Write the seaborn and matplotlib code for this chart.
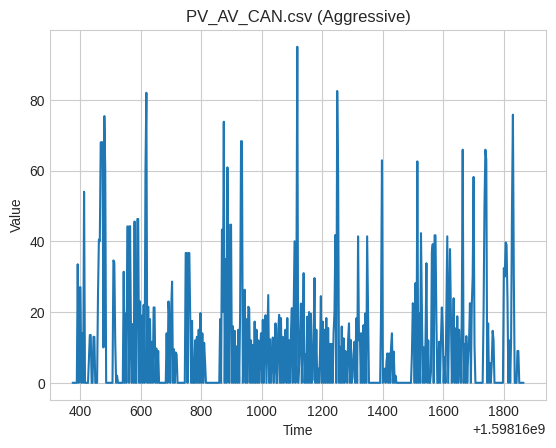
import numpy as np
import pandas as pd
import matplotlib
matplotlib.use("Agg")
import matplotlib.pyplot as plt
import seaborn as sns

# --- datos (tiempo epoch, muestreo cada 3 s dentro de cada rafaga) ---
base_time = 1598160000
step = 3

edge_times = [374, 1865]
edge_values = [0, 0]

burst_starts = [376, 425, 455, 506, 540, 682, 745, 776, 856, 1391, 1493, 1730, 1797]

burst_a = [0, 0, 0, 0, 0, 33.5, 0, 27, 27, 0, 14, 0, 54, 0, 0]
burst_b = [0, 7, 13.5, 13.5, 0, 0, 13, 13, 0]
burst_c = [0, 24.8, 40.5, 40, 68, 68, 68, 10, 75.4, 60, 0, 0]
burst_d = [0, 34.6, 34, 11.6, 0, 2, 0]
burst_e = [0, 31.4, 0, 19.6, 0, 44.2, 44.2, 0, 44.3, 14.4, 0, 16.6, 0, 45.6,
           0, 0, 46.3, 46.3, 0, 23, 0, 19, 0, 22, 0, 60, 82, 0, 21.5, 0,
           18, 0, 11.6, 0, 21.3, 21.3, 0, 9.7, 0, 9, 0]
burst_f = [0, 14, 0, 23, 18, 0, 21, 28.6, 0, 9.5, 0, 8.6, 8, 0]
burst_g = [0, 36.7, 36.7, 0, 36.7, 36.7, 17.5, 0, 17.5, 0]
burst_h = [0, 12, 0, 13, 0, 15, 0, 19.7, 0, 14, 0, 11.3, 6, 0]
burst_i = [0, 0, 18, 0, 43.3, 20, 73.8, 0, 35, 0, 60.9, 22, 0, 44.7, 44.7,
           0, 16, 0, 14.7, 0, 10.3, 0, 15, 0, 20, 68.3, 68.3, 0, 10, 26.3,
           0, 18, 0, 21.5, 21, 0, 12, 0, 10.7, 0, 17.3, 0, 15, 0, 12,
           0, 9, 14, 0, 17.8, 0, 13, 19.1, 0, 12, 24.8, 0, 12.3, 0, 7,
           12.8, 0, 6, 16.8, 0, 0, 15, 19.2, 0, 18.3, 0, 13, 0, 9, 15,
           0, 18.3, 0, 12, 0, 14, 21.1, 0, 21, 40, 0, 25, 95, 0, 5,
           13, 22.4, 0, 14, 31, 0, 8, 0, 18.7, 0, 20, 0, 19.5, 0, 1,
           14, 29.6, 0, 15, 0, 4, 0, 8, 24.5, 0, 17.3, 0, 15, 0, 18.3,
           0, 15.5, 0, 11, 0, 11, 0, 14, 20, 41.8, 0, 82.5, 60, 0, 10.2,
           0, 15.9, 0, 12.6, 0, 9, 8, 0, 12, 16.8, 0, 12.1, 0, 1.6, 8,
           11.6, 0, 18.2, 0, 41.4, 12, 14, 0, 14, 0, 16.3, 0, 19.6, 0, 41.4,
           20, 0, 0]
burst_j = [0, 20.5, 62.9, 0, 1, 4, 0, 6, 8.3, 0, 8.3, 0, 10, 14, 0, 8.8, 0, 2, 0]
burst_k = [0, 8, 22.5, 20, 0, 28.2, 0, 62.6, 0, 19.6, 0, 42.3, 21.5, 0, 10,
           0, 12, 33.8, 0, 12, 0, 0, 3, 37, 39.2, 0, 41.7, 41.7, 17.7, 0,
           0, 11.6, 0, 12, 21.3, 15, 0, 7.3, 0, 20, 41.4, 0, 20, 37.8, 18.6,
           0, 10, 23.9, 0, 15.4, 0, 18.8, 0, 15, 5.6, 0, 20, 65.9, 0, 11,
           0, 13.2, 0, 8.1, 12, 22.5, 0, 22, 30, 58.2, 10.5, 0, 0]
burst_l = [0, 20, 50, 65.9, 63, 0, 16.8, 0, 5.6, 0, 5.6, 14.7, 12, 0]
burst_m = [0, 32.4, 30, 39.7, 39, 23.9, 0, 12, 0, 12, 50, 75.8, 30, 0, 0, 0, 9, 9, 0]

bursts = [burst_a, burst_b, burst_c, burst_d, burst_e, burst_f, burst_g,
          burst_h, burst_i, burst_j, burst_k, burst_l, burst_m]

# --- armar la serie ---
times = list(edge_times)
values = list(edge_values)
for start, vals in zip(burst_starts, bursts):
    times += [start + step * k for k in range(len(vals))]
    values += vals

df = pd.DataFrame({"Time": np.array(times, dtype=float) + base_time, "Value": values})
df = df.drop_duplicates("Time").sort_values("Time")

# --- grafico ---
sns.set_style("whitegrid")
plt.rcParams["font.family"] = ["Liberation Sans", "DejaVu Sans"]
plt.rcParams["xtick.major.size"] = 0
plt.rcParams["ytick.major.size"] = 0

fig, ax = plt.subplots(figsize=(6.4, 4.8), dpi=100)
sns.lineplot(data=df, x="Time", y="Value", color="#1f77b4", linewidth=1.5,
             estimator=None, ax=ax)
ax.set_title("PV_AV_CAN.csv (Aggressive)")
ax.set_xlabel("Time")
ax.set_ylabel("Value")

fig.savefig("out.png", bbox_inches="tight")
